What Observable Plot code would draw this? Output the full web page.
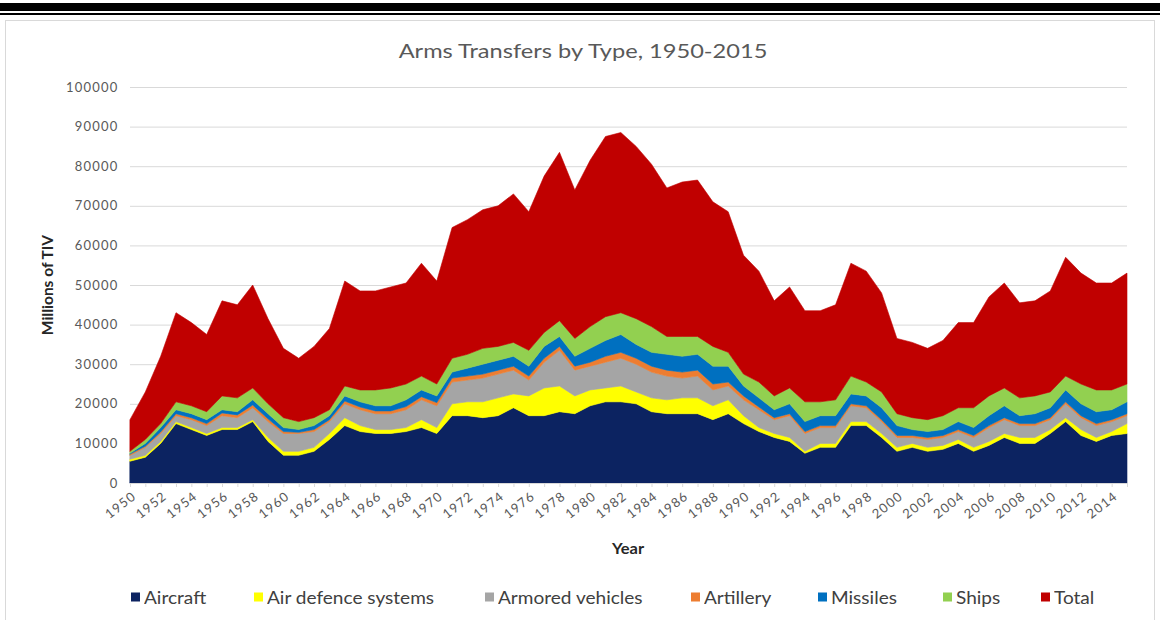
<!DOCTYPE html>
<html>
<head>
<meta charset="utf-8">
<script src="https://cdn.jsdelivr.net/npm/d3@7"></script>
<script src="https://cdn.jsdelivr.net/npm/@observablehq/plot@0.6"></script>
<style>
  html, body { margin: 0; padding: 0; background: #fff; width: 1160px; height: 620px; overflow: hidden; font-family: Lato, "Open Sans", sans-serif; }
  #bar1 { position: absolute; left: 0; top: 3px; width: 1160px; height: 8px; background: #000; }
  #bar2 { position: absolute; left: 0; top: 13px; width: 1160px; height: 2px; background: #000; }
  #box { position: absolute; left: 5px; top: 20px; width: 1150px; height: 620px; border: 1px solid #d9d9d9; box-sizing: border-box; }
  #title { position: absolute; left: 583px; top: 50px; transform: translate(-50%, -50%) scaleX(1.18); font-size: 20px; color: #595959; white-space: nowrap; }
  #chart { position: absolute; left: 0; top: 70px; }
  #ylab { position: absolute; left: 47px; top: 285px; transform: translate(-50%, -50%) rotate(-90deg); font-size: 15.5px; font-weight: bold; color: #262626; white-space: nowrap; }
  #xlab { position: absolute; left: 628px; top: 548px; transform: translate(-50%, -50%) scaleX(1.1); font-size: 15px; font-weight: bold; color: #262626; }
  #legend { position: absolute; left: 0; top: 0; width: 1160px; height: 620px; font-size: 17px; color: #404040; white-space: nowrap; }
  .item { position: absolute; top: 597px; display: flex; align-items: center; transform: translateY(-50%); }
  .sw { width: 9px; height: 9px; margin-right: 4px; flex: none; }
  .lt { display: inline-block; transform-origin: left center; transform: scaleX(1.12); }
</style>
</head>
<body>
<div id="bar1"></div>
<div id="bar2"></div>
<div id="box"></div>
<div id="title">Arms Transfers by Type, 1950-2015</div>
<div id="chart"></div>
<div id="ylab">Millions of TIV</div>
<div id="xlab">Year</div>
<div id="legend"></div>
<script>
const years = d3.range(1950, 2016);
const types = ["Aircraft", "Air defence systems", "Armored vehicles", "Artillery", "Missiles", "Ships", "Total"];
const colors = ["#0c2361", "#ffff00", "#a5a5a5", "#ed7d31", "#0070c0", "#92d050", "#c00000"];
const yTicks = [0, 10000, 20000, 30000, 40000, 50000, 60000, 70000, 80000, 90000, 100000];
const xLabelYears = d3.range(1950, 2015, 2);

const aircraft = [5500,6500,10000,15000,13500,12000,13500,13500,15500,10500,7000,7000,8000,11000,14500,13000,12500,12500,13000,14000,12500,17000,17000,16500,17000,19000,17000,17000,18000,17500,19500,20500,20500,20000,18000,17500,17500,17500,16000,17500,15000,13000,11500,10500,7500,9000,9000,14500,14500,11500,8000,9000,8000,8500,10000,8000,9500,11500,10000,10000,12500,15500,12000,10500,12000,12500];
const airDefence = [500,500,500,500,500,500,500,500,500,1000,1000,1000,1000,1500,2000,1500,1000,1000,1000,2000,1500,3000,3500,4000,4500,3500,5000,7000,6500,4500,4000,3500,4000,3000,3500,3500,4000,4000,3500,3500,2000,1000,1000,1000,500,1000,1000,1000,1000,1000,1000,1000,1000,1000,1000,1000,1000,1000,1500,1500,1000,1000,1500,1000,1000,2500];
const armored = [1000,2000,2000,1500,2000,2000,3000,2500,3000,4000,4500,4500,4000,3000,3500,4000,4000,4000,4500,5000,5500,5500,5500,6000,6000,6000,4000,6500,9000,6500,6000,6500,7000,7000,6500,6000,5000,5500,4000,3500,4000,4500,3500,5500,4500,4000,4000,4000,3500,3000,2500,1500,2000,2000,2000,2500,3500,3500,3000,3000,2500,3500,3000,3000,2500,2000];
const artillery = [300,300,400,500,500,500,700,700,700,700,500,300,500,500,700,700,700,700,800,800,800,1000,1000,1000,1000,1000,1000,1000,1000,1000,1000,1500,1500,1500,1500,1500,1500,1500,1500,1000,1000,700,500,500,500,500,500,500,500,500,500,500,500,500,500,500,500,500,500,500,500,500,500,500,500,500];
const missiles = [200,700,1100,1000,1000,1000,800,800,1300,1300,1000,700,1000,1000,1300,1300,1300,1300,1700,1700,1700,1500,2000,2500,2500,2500,2500,3000,2500,2500,3500,4000,4500,3500,3500,4000,4000,4000,4500,4000,2500,2300,2000,2500,2500,2500,2500,2500,2500,3000,2500,1500,1500,1500,2000,2000,2500,3000,2000,2500,2500,3000,3000,3000,2500,3000];
const ships = [500,1000,1000,2000,2000,2000,3500,3500,3000,2500,2500,2000,2000,1500,2500,3000,4000,4500,4000,3500,3000,3500,3500,4000,3500,3500,4000,3500,4000,4500,5500,6000,5500,6500,6500,4500,5000,4500,5000,3500,3000,4000,3500,4000,5000,3500,4000,4500,3500,4000,3000,3000,3000,3500,3500,5000,5000,4500,4500,4500,4000,3500,5000,5500,5000,4500];
const total = [8000,12000,17000,22500,21000,19500,24000,23500,26000,21500,17500,16000,18000,20500,26500,25000,25000,25500,25500,28500,26000,33000,34000,35000,35500,37500,35000,39500,42500,37500,42000,45500,45500,43500,41000,37500,39000,39500,36500,35500,30000,28000,24000,25500,23000,23000,24000,28500,28000,25000,19000,19000,18000,19000,21500,21500,25000,26500,24000,24000,25500,30000,28000,27000,27000,28000];

const series = [aircraft, airDefence, armored, artillery, missiles, ships, total];
const data = [];
series.forEach((vals, i) => vals.forEach((v, j) => data.push({year: years[j], type: types[i], value: v})));

const tickFont = {fontSize: 13, fill: "#595959"};

const chart = Plot.plot({
  width: 1160,
  height: 480,
  marginLeft: 130,
  marginRight: 33,
  marginTop: 17,
  marginBottom: 67,
  style: {fontFamily: "Lato, 'Open Sans', sans-serif", fontSize: "13px", color: "#595959", background: "transparent"},
  x: {domain: [1950, 2015]},
  y: {domain: [0, 100000]},
  color: {domain: types, range: colors},
  marks: [
    Plot.gridY(yTicks, {stroke: "#d9d9d9", strokeOpacity: 1, strokeWidth: 1}),
    Plot.areaY(data, {x: "year", y: "value", fill: "type", stroke: "type", strokeWidth: 0.6, order: types}),
    Plot.ruleY([0], {stroke: "#d9d9d9"}),
    Plot.axisY(yTicks, {tickSize: 0, tickPadding: 12, tickFormat: d => String(d), label: null, ...tickFont}),
    Plot.axisX(years, {tickSize: 4, stroke: "#d9d9d9", tickFormat: () => "", label: null}),
    Plot.axisX(xLabelYears, {tickSize: 0, tickPadding: 11, dx: 4, tickRotate: -38, tickFormat: d => String(d), label: null, ...tickFont})
  ]
});
d3.select(chart).selectAll('g[aria-label="y-axis tick label"] text').attr("letter-spacing", "1.2px");
d3.select(chart).selectAll('g[aria-label="x-axis tick label"] text').attr("letter-spacing", "1.2px");
document.getElementById("chart").appendChild(chart);

const legendX = [131, 254, 485, 691, 818, 943, 1041];
const legend = document.getElementById("legend");
types.forEach((t, i) => {
  const item = document.createElement("div");
  item.className = "item";
  item.style.left = legendX[i] + "px";
  const sw = document.createElement("div");
  sw.className = "sw";
  sw.style.background = colors[i];
  const label = document.createElement("span");
  label.className = "lt";
  label.textContent = t;
  item.appendChild(sw);
  item.appendChild(label);
  legend.appendChild(item);
});
</script>
</body>
</html>
